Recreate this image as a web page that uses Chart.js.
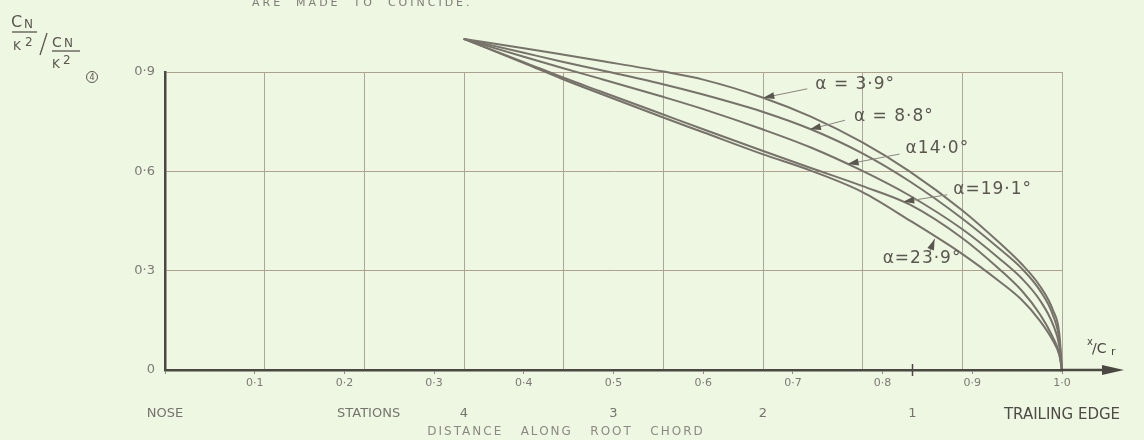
<!DOCTYPE html>
<html>
<head>
<meta charset="utf-8">
<script src="https://cdn.jsdelivr.net/npm/chart.js@4.4.0/dist/chart.umd.min.js"></script>
<style>
  html, body { margin: 0; padding: 0; background: #edf7e1; }
  #wrap { width: 1144px; height: 440px; }
</style>
</head>
<body>
<div id="wrap"><canvas id="myChart" width="1144" height="440"></canvas></div>
<script>
'use strict'
// values, x = x/Cr along root chord
var chordX = [0.333, 0.40, 0.443, 0.485, 0.554, 0.60, 0.666, 0.72, 0.777, 0.83, 0.889, 0.93, 0.955, 0.975, 0.99, 0.997, 1.0];

var alpha39  = [1.0, 0.972, 0.953, 0.934, 0.902, 0.877, 0.823, 0.765, 0.688, 0.600, 0.482, 0.385, 0.320, 0.255, 0.180, 0.110, 0];
var alpha88  = [1.0, 0.958, 0.931, 0.906, 0.864, 0.832, 0.780, 0.727, 0.655, 0.570, 0.457, 0.367, 0.307, 0.242, 0.165, 0.090, 0];
var alpha140 = [1.0, 0.946, 0.912, 0.880, 0.826, 0.788, 0.727, 0.672, 0.602, 0.527, 0.425, 0.337, 0.277, 0.212, 0.137, 0.072, 0];
var alpha191 = [1.0, 0.930, 0.884, 0.842, 0.773, 0.727, 0.662, 0.610, 0.556, 0.500, 0.398, 0.305, 0.240, 0.170, 0.098, 0.050, 0];
var alpha239 = [1.0, 0.927, 0.879, 0.835, 0.764, 0.718, 0.652, 0.602, 0.538, 0.452, 0.350, 0.268, 0.212, 0.150, 0.088, 0.045, 0];

var curveNames = ['α = 3·9°', 'α = 8·8°', 'α14·0°', 'α=19·1°', 'α=23·9°'];
var yTicks = [0, 0.3, 0.6, 0.9];
var stationX = [0, 0.227, 1 / 3, 0.5, 2 / 3, 5 / 6, 1];
var stationLabels = ['NOSE', 'STATIONS', '4', '3', '2', '1', 'TRAILING EDGE'];
var gridX = [1, 2, 3, 4, 5, 6, 7, 8, 9].map(function(k) { return k / 9; });

var paper = '#edf7e1';
var ink = '#4b4843';
var pencil = '#77736a';

function pts(arr) {
  return chordX.map(function(x, i) { return { x: x, y: arr[i] }; });
}

// where each label arrow touches its curve (data coords) + pixel offsets
var notes = [
  { at: [0.667, 0.822], tail: [44, -9],  text: [52, -13] },
  { at: [0.719, 0.727], tail: [35, -9],  text: [44, -13] },
  { at: [0.761, 0.622], tail: [52, -10], text: [58, -15] },
  { at: [0.823, 0.508], tail: [44, -7],  text: [50, -12] },
  { at: [0.858, 0.396], tail: [-5, 13],  text: [-52, 20] }
];

function arrowTo(ctx, x1, y1, x2, y2) {
  var a = Math.atan2(y2 - y1, x2 - x1);
  ctx.beginPath();
  ctx.moveTo(x1, y1);
  ctx.lineTo(x2, y2);
  ctx.stroke();
  ctx.beginPath();
  ctx.moveTo(x2, y2);
  ctx.lineTo(x2 - 11 * Math.cos(a) + 3.5 * Math.sin(a), y2 - 11 * Math.sin(a) - 3.5 * Math.cos(a));
  ctx.lineTo(x2 - 11 * Math.cos(a) - 3.5 * Math.sin(a), y2 - 11 * Math.sin(a) + 3.5 * Math.cos(a));
  ctx.closePath();
  ctx.fill();
}

var decor = {
  id: 'decor',
  beforeDraw: function(chart) {
    var ctx = chart.ctx;
    ctx.save();
    ctx.fillStyle = paper;
    ctx.fillRect(0, 0, chart.width, chart.height);
    ctx.restore();
  },
  afterDraw: function(chart) {
    var ctx = chart.ctx;
    var xs = chart.scales.x, ys = chart.scales.y;
    var y0 = ys.getPixelForValue(0);
    ctx.save();

    // x axis runs on past the trailing edge with an arrow
    ctx.strokeStyle = ink;
    ctx.fillStyle = ink;
    ctx.lineWidth = 2.5;
    ctx.beginPath();
    ctx.moveTo(xs.right - 2, y0);
    ctx.lineTo(xs.right + 48, y0);
    ctx.stroke();
    ctx.beginPath();
    ctx.moveTo(xs.right + 62, y0);
    ctx.lineTo(xs.right + 40, y0 - 5);
    ctx.lineTo(xs.right + 40, y0 + 5);
    ctx.closePath();
    ctx.fill();

    // station 1 mark
    var s1 = xs.getPixelForValue(5 / 6);
    ctx.lineWidth = 1.5;
    ctx.beginPath();
    ctx.moveTo(s1, y0 - 6);
    ctx.lineTo(s1, y0 + 6);
    ctx.stroke();

    // curve labels
    ctx.lineWidth = 1;
    ctx.strokeStyle = '#8a877e';
    ctx.fillStyle = '#5a574f';
    ctx.font = '17px "DejaVu Sans"';
    ctx.letterSpacing = '1px';
    ctx.textBaseline = 'middle';
    ctx.textAlign = 'left';
    notes.forEach(function(n, i) {
      var hx = xs.getPixelForValue(n.at[0]);
      var hy = ys.getPixelForValue(n.at[1]);
      arrowTo(ctx, hx + n.tail[0], hy + n.tail[1], hx, hy);
      ctx.fillText(curveNames[i], hx + n.text[0], hy + n.text[1]);
    });

    // x/Cr
    ctx.letterSpacing = '0px';
    ctx.fillStyle = ink;
    ctx.font = '10px "DejaVu Sans"';
    ctx.fillText('x', xs.right + 25, y0 - 28);
    ctx.font = '14px "DejaVu Sans"';
    ctx.fillText('/C', xs.right + 30, y0 - 21);
    ctx.font = '11px "DejaVu Sans"';
    ctx.fillText('r', xs.right + 49, y0 - 18);

    // y title: (CN/K2) / (CN/K2)4
    ctx.fillStyle = '#5a574f';
    ctx.strokeStyle = '#5a574f';
    ctx.lineWidth = 1.3;
    ctx.textBaseline = 'alphabetic';
    ctx.font = '16px "DejaVu Sans"';
    ctx.fillText('C', 11, 27);
    ctx.font = '12px "DejaVu Sans"';
    ctx.fillText('N', 24, 28);
    ctx.beginPath(); ctx.moveTo(12, 32); ctx.lineTo(37, 32); ctx.stroke();
    ctx.fillText('K', 13, 50);
    ctx.fillText('2', 25, 46);
    ctx.beginPath(); ctx.moveTo(47, 33); ctx.lineTo(40, 55); ctx.stroke();
    ctx.font = '14px "DejaVu Sans"';
    ctx.fillText('C', 52, 47);
    ctx.font = '12px "DejaVu Sans"';
    ctx.fillText('N', 64, 47);
    ctx.beginPath(); ctx.moveTo(52, 51); ctx.lineTo(80, 51); ctx.stroke();
    ctx.fillText('K', 52, 68);
    ctx.fillText('2', 63, 64);
    ctx.lineWidth = 1;
    ctx.beginPath(); ctx.arc(92, 77, 5.5, 0, Math.PI * 2); ctx.stroke();
    ctx.font = '8px "DejaVu Sans"';
    ctx.textAlign = 'center';
    ctx.textBaseline = 'middle';
    ctx.fillText('4', 92, 77.5);

    // axis caption and cut-off heading
    ctx.fillStyle = '#8b8a82';
    ctx.font = '12px "DejaVu Sans"';
    ctx.letterSpacing = '2px';
    ctx.textAlign = 'center';
    ctx.fillText('DISTANCE   ALONG   ROOT   CHORD', 566, 432);
    ctx.textAlign = 'left';
    ctx.textBaseline = 'alphabetic';
    ctx.fillStyle = '#7e7d76';
    ctx.font = '11px "DejaVu Sans"';
    ctx.letterSpacing = '3px';
    ctx.fillText('ARE  MADE  TO  COINCIDE.', 252, 6);
    ctx.restore();
  }
};

var ctx = document.getElementById('myChart').getContext('2d');
var series = [alpha39, alpha88, alpha140, alpha191, alpha239];
var chart = new Chart(ctx, {
  type: 'line',
  data: {
    datasets: series.map(function(s, i) {
      return {
        label: curveNames[i],
        data: pts(s),
        borderColor: pencil,
        borderWidth: 2,
        pointRadius: 0,
        cubicInterpolationMode: 'monotone',
        clip: false
      };
    })
  },
  options: {
    responsive: false,
    animation: false,
    events: [],
    layout: { padding: { top: 72, right: 82, bottom: 10, left: 0 } },
    plugins: { legend: { display: false }, tooltip: { enabled: false } },
    scales: {
      x: {
        type: 'linear',
        position: 'bottom',
        weight: 0,
        min: 0,
        max: 1,
        border: { display: true, color: ink, width: 2.5 },
        grid: { drawOnChartArea: false, drawTicks: true, tickLength: 4, color: '#8f8c84' },
        ticks: {
          stepSize: 0.1,
          padding: 3,
          color: '#7c7b74',
          font: { family: 'DejaVu Sans', size: 11 },
          maxRotation: 0,
          autoSkip: false,
          callback: function(v) {
            var t = Math.round(v * 10);
            if (t === 0) return '';
            if (t === 10) return '1·0';
            return '0·' + t;
          }
        },
        afterFit: function(s) { s.height = 22; }
      },
      xs: {
        type: 'linear',
        position: 'bottom',
        weight: 1,
        min: 0,
        max: 1,
        border: { display: false },
        grid: { display: false },
        afterBuildTicks: function(s) {
          s.ticks = stationX.map(function(v) { return { value: v }; });
        },
        ticks: {
          padding: 6,
          autoSkip: false,
          maxRotation: 0,
          color: function(c) { return c.index === 6 ? '#4d4b45' : '#75746d'; },
          font: function(c) {
            return c.index === 6 ? { family: 'DejaVu Sans', size: 15 } : { family: 'DejaVu Sans', size: 13 };
          },
          callback: function(v, i) { return stationLabels[i]; }
        },
        afterFit: function(s) { s.height = 38; }
      },
      xg: {
        type: 'linear',
        position: 'top',
        min: 0,
        max: 1,
        border: { display: false },
        grid: { drawTicks: false, color: '#aaa79b', lineWidth: 1 },
        afterBuildTicks: function(s) {
          s.ticks = gridX.map(function(v) { return { value: v }; });
        },
        ticks: { display: false },
        afterFit: function(s) { s.height = 0; }
      },
      y: {
        type: 'linear',
        min: 0,
        max: 0.9,
        border: { display: true, color: ink, width: 2.5 },
        grid: { drawTicks: false, color: '#b29f8c', lineWidth: 1 },
        afterBuildTicks: function(s) {
          s.ticks = yTicks.map(function(v) { return { value: v }; });
        },
        ticks: {
          padding: 10,
          color: '#7c7b74',
          font: { family: 'DejaVu Sans', size: 13 },
          callback: function(v) {
            var t = Math.round(v * 10);
            return t === 0 ? '0' : '0·' + t;
          }
        },
        afterFit: function(s) { s.width = 165; }
      }
    }
  },
  plugins: [decor]
});
</script>
</body>
</html>
